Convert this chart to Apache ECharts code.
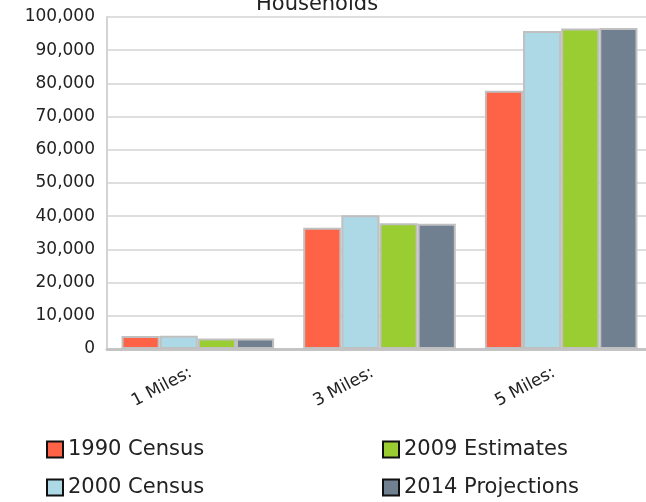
<!DOCTYPE html>
<html>
<head>
<meta charset="utf-8">
<script src="https://cdn.jsdelivr.net/npm/echarts@6/dist/echarts.min.js"></script>
<style>
html,body{margin:0;padding:0;background:#fff;}
#chart{width:646px;height:502px;}
</style>
</head>
<body>
<div id="chart"></div>
<script>
const titleText = "Households";
const categories = ["1 Miles:", "3 Miles:", "5 Miles:"];
const seriesNames = ["1990 Census", "2000 Census", "2009 Estimates", "2014 Projections"];
const colors = ["#FF6347", "#ADD8E6", "#9ACD32", "#708090"];
const census1990 = [3900, 36500, 77800];
const census2000 = [4000, 40300, 95800];
const estimates2009 = [3200, 37900, 96500];
const projections2014 = [3200, 37700, 96700];
const yTicks = { min: 0, max: 100000, interval: 10000 };

const seriesValues = [census1990, census2000, estimates2009, projections2014];
const FONT = "DejaVu Sans";

const legendPos = [[46, 439], [46, 477], [382, 439], [382, 477]];

const chart = echarts.init(document.getElementById('chart'), null, { renderer: 'canvas' });
chart.setOption({
  animation: false,
  backgroundColor: '#ffffff',
  title: {
    text: titleText,
    left: 251,
    top: -11,
    textStyle: { fontFamily: FONT, fontSize: 21, fontWeight: 'normal', color: '#222' }
  },
  legend: seriesNames.map((name, i) => ({
    left: legendPos[i][0],
    top: legendPos[i][1],
    padding: 0,
    icon: 'rect',
    itemWidth: 16,
    itemHeight: 16,
    data: [name],
    itemStyle: { borderColor: '#111', borderWidth: 2 },
    textStyle: { fontFamily: FONT, fontSize: 21, color: '#222' }
  })),
  grid: { left: 107, top: 17, width: 545, height: 332, containLabel: false, outerBoundsMode: 'none' },
  xAxis: {
    type: 'category',
    data: categories,
    axisLine: { show: true, lineStyle: { color: '#c4c4c4', width: 3 } },
    axisTick: { show: false },
    axisLabel: {
      rotate: 28,
      margin: 19,
      padding: [0, 8, 0, 0],
      fontFamily: FONT,
      fontSize: 17,
      color: '#222'
    },
    splitLine: { show: false }
  },
  yAxis: {
    type: 'value',
    min: yTicks.min,
    max: yTicks.max,
    interval: yTicks.interval,
    axisLine: { show: true, lineStyle: { color: '#d4d4d4', width: 2 } },
    axisTick: { show: false },
    axisLabel: {
      margin: 12,
      fontFamily: FONT,
      fontSize: 17,
      color: '#222'
    },
    splitLine: { show: true, lineStyle: { color: '#dedede', width: 2 } }
  },
  series: seriesNames.map((name, i) => ({
    name: name,
    type: 'bar',
    data: seriesValues[i],
    barGap: '0%',
    barCategoryGap: '16%',
    itemStyle: { color: colors[i], borderColor: '#c0c0c0', borderWidth: 2 }
  }))
});
</script>
</body>
</html>
